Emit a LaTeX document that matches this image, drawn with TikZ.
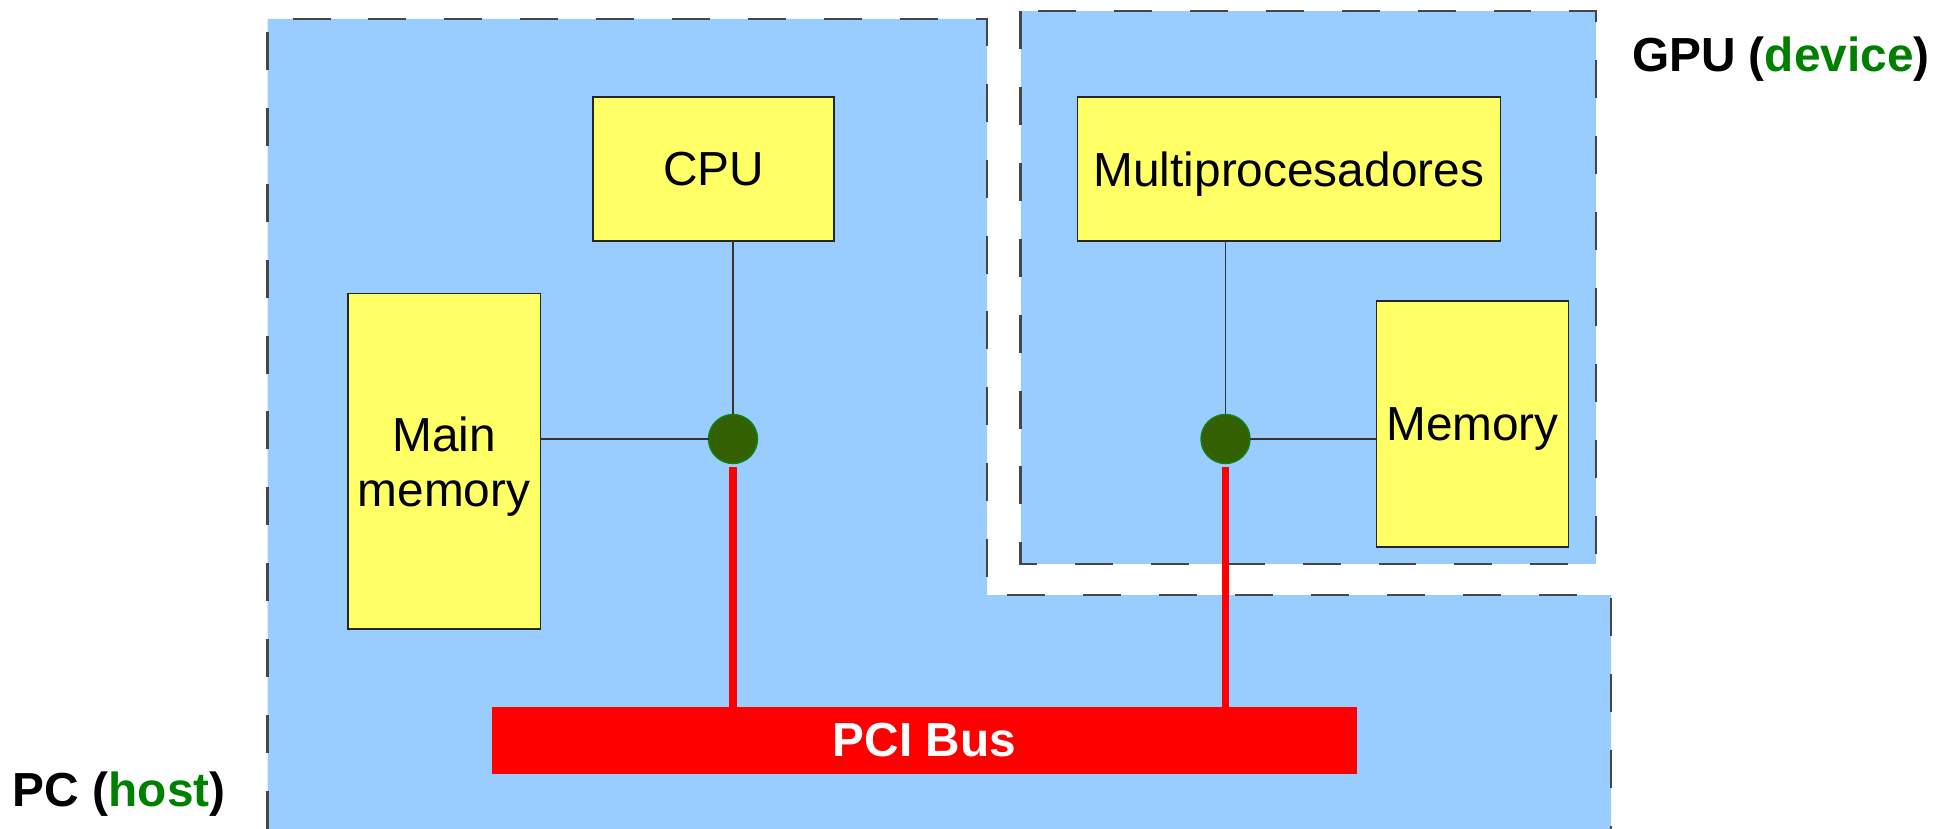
\documentclass[tikz,border=0pt]{standalone}
\usepackage{fontspec}
\setmainfont{Liberation Sans}
\usepackage{xcolor}
\usepackage{tikz}
\usetikzlibrary{positioning, calc}
\definecolor{regionblue}{RGB}{153, 204, 255}
\definecolor{boxyellow}{RGB}{255, 255, 102}
\definecolor{dotgreen}{RGB}{51, 96, 0}
\definecolor{dotrim}{RGB}{20, 128, 20}
\definecolor{labelgreen}{RGB}{0, 128, 0}
\definecolor{dashgray}{RGB}{70, 70, 70}

\begin{document}
\begin{tikzpicture}[
  x=1cm,
  y=1cm,
  font=\fontsize{13.6}{15.6}\selectfont,
  every node/.style={inner sep=0pt, outer sep=0pt},
  region/.style={draw=dashgray, line width=0.6pt, dash pattern=on 10.8pt off 10.8pt},
  unit/.style={draw=black!85, line width=0.4pt, fill=boxyellow, align=center, text depth=0pt},
  joint/.style={circle, fill=dotgreen, draw=dotrim, line width=0.4pt, minimum size=0.49cm},
  wire/.style={draw=black!80, line width=0.45pt},
  busline/.style={draw=red, line width=2.1pt, shorten <=0.04cm}
]

\useasboundingbox (0, 0) rectangle (19.34, -8.29);

% host and device areas
\fill[regionblue] (2.675, -0.19) -- (9.87, -0.19) -- (9.87, -5.95) -- (16.11, -5.95)
  -- (16.11, -8.29) -- (2.675, -8.29) -- cycle;
\draw[region] (2.675, -8.29) -- (2.675, -0.19) -- (9.87, -0.19) -- (9.87, -5.95)
  -- (16.11, -5.95) -- (16.11, -8.29);

\fill[regionblue] (10.205, -0.11) rectangle (15.96, -5.64);
\draw[region] (10.205, -0.11) rectangle (15.96, -5.64);

\node[unit, minimum width=2.41cm, minimum height=1.44cm] (cpu) at (7.135, -1.69) {CPU};
\node[unit, minimum width=1.924cm, minimum height=3.355cm] (mainmem) at (4.44, -4.613)
  {Main\\memory};
\node[unit, minimum width=4.228cm, minimum height=1.44cm] (multi) at (12.888, -1.69)
  {Multiprocesadores};
\node[unit, minimum width=1.921cm, minimum height=2.457cm] (gpumem) at (14.725, -4.24)
  {Memory};

\node[joint] (hostjoint) at (7.33, -4.39) {};
\node[joint] (gpujoint) at (12.255, -4.39) {};

\node[fill=red, text=white, font=\fontsize{13.6}{15.6}\selectfont\bfseries,
      minimum width=8.647cm, minimum height=0.676cm] (pci) at (9.245, -7.405) {PCI Bus};

\draw[wire] (cpu.south -| hostjoint) -- (hostjoint.north);
\draw[wire] (hostjoint -| mainmem.east) -- (hostjoint.west);
\draw[wire] (multi.south -| gpujoint) -- (gpujoint.north);
\draw[wire] (gpujoint.east) -- (gpujoint -| gpumem.west);

\draw[busline] (hostjoint.south) -- (hostjoint |- pci.north);
\draw[busline] (gpujoint.south) -- (gpujoint |- pci.north);

\node[font=\fontsize{13.6}{15.6}\selectfont\bfseries, anchor=west] (hostlabel)
  at (0.13, -7.94) {PC (\textcolor{labelgreen}{host})};
\node[font=\fontsize{13.6}{15.6}\selectfont\bfseries, anchor=west] (devlabel)
  at (16.32, -0.59) {GPU (\textcolor{labelgreen}{device})};

\end{tikzpicture}
\end{document}
